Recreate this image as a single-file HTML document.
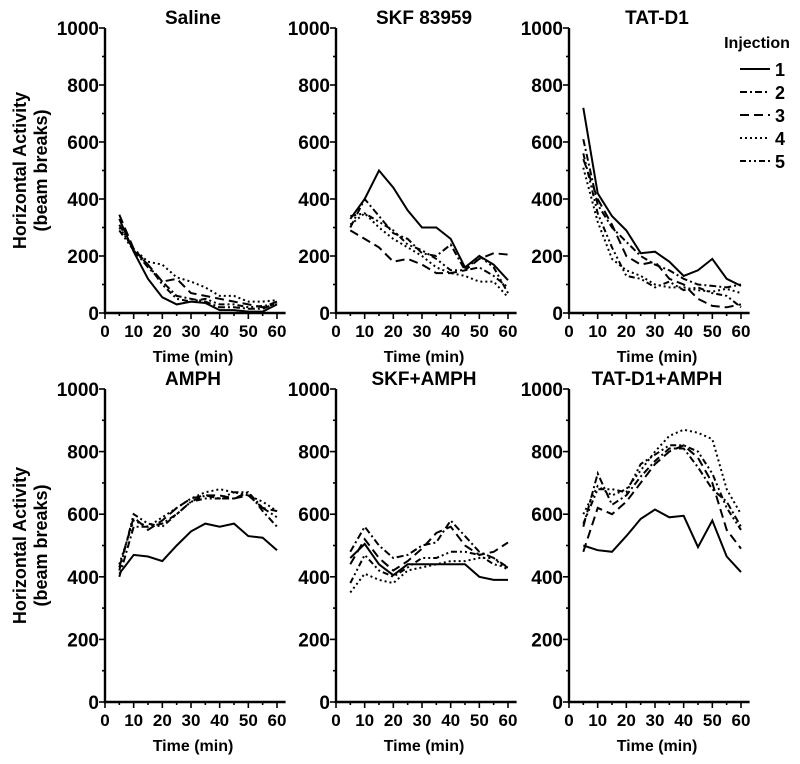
<!DOCTYPE html>
<html><head><meta charset="utf-8"><style>
body{margin:0;background:#fff}
svg{display:block}
text{font-family:"Liberation Sans",Arial,sans-serif;font-weight:bold;fill:#000}
</style></head><body>
<svg id="chart" width="800" height="764" viewBox="0 0 800 764" xmlns="http://www.w3.org/2000/svg"></svg>
<script>
const times=[5,10,15,20,25,30,35,40,45,50,55,60];
const yTicks=[0,200,400,600,800,1000];
const xTicks=[0,10,20,30,40,50,60];
const seriesNames=["1","2","3","4","5"];
const panelTitles=["Saline","SKF 83959","TAT-D1","AMPH","SKF+AMPH","TAT-D1+AMPH"];
const saline=[[330,215,120,55,30,40,35,10,10,5,5,30],[310,220,160,110,60,50,40,20,20,15,15,35],[345,225,170,110,120,70,60,50,40,30,20,40],[300,225,180,170,125,110,90,60,60,40,40,45],[290,220,170,100,50,40,50,30,30,20,25,30]];
const skf=[[330,400,500,440,360,300,300,260,160,200,170,115],[300,400,340,280,260,210,200,240,150,160,130,90],[290,260,230,180,190,170,140,140,150,190,210,205],[310,350,300,260,230,200,160,140,130,110,110,55],[340,350,320,290,240,220,190,150,150,200,160,70]];
const tat=[[720,420,340,290,210,215,180,130,150,190,120,95],[610,380,300,250,200,170,150,120,100,95,90,100],[540,400,310,200,170,180,120,100,50,25,20,30],[510,320,190,150,130,100,90,90,80,75,85,70],[560,350,230,130,120,90,110,80,90,70,60,20]];
const amph=[[410,470,465,450,500,545,570,560,570,530,525,485],[400,560,560,570,600,640,660,650,650,670,610,560],[430,590,550,580,620,650,660,660,650,660,620,610],[440,580,560,590,620,650,670,680,670,660,640,610],[420,600,570,560,600,640,650,650,670,670,620,590]];
const skfAmph=[[460,505,440,405,440,440,440,440,440,400,390,390],[480,560,500,460,470,500,510,580,530,480,460,430],[440,520,460,420,450,490,540,560,500,470,480,510],[350,410,390,380,420,430,440,450,450,460,460,420],[380,470,420,400,430,460,460,480,480,470,440,430]];
const tatAmph=[[500,485,480,530,585,615,590,595,495,580,465,415],[560,730,630,660,720,770,810,810,750,680,640,560],[480,620,600,640,700,760,800,820,780,700,550,490],[600,690,660,680,740,800,850,870,860,840,680,600],[570,680,680,670,760,790,820,820,800,730,620,550]];
const panelData=[saline,skf,tat,amph,skfAmph,tatAmph];
const dashes=["none","7,3,2,3","9,5","2,3","6,3,2,3,2,3"];

const NS="http://www.w3.org/2000/svg";
const svg=document.getElementById('chart');
function mk(tag,attrs,parent){const e=document.createElementNS(NS,tag);for(const k in attrs)e.setAttribute(k,attrs[k]);(parent||svg).appendChild(e);return e;}
const colX=[105,336,569];
const rowY=[[28,313],[389,702]];
const xw=172;
panelData.forEach((data,pi)=>{
  const c=pi%3,r=Math.floor(pi/3);
  const x0=colX[c],yTop=rowY[r][0],yBot=rowY[r][1];
  const sx=v=>x0+v/60*xw;
  const sy=v=>yBot-(v/1000)*(yBot-yTop);
  const g=mk('g',{});
  
  
  const t=mk('text',{x:x0+88,y:yTop-4,'text-anchor':'middle','font-size':19},g);t.textContent=panelTitles[pi];
  
  const ax=mk('path',{d:`M${x0},${yTop} V${yBot} H${sx(63)}`,stroke:'#000','stroke-width':2.4,fill:'none'},g);
  
  for(let v=0;v<=1000;v+=100){mk('line',{x1:x0-(v%200?3:6),x2:x0,y1:sy(v),y2:sy(v),stroke:'#000','stroke-width':1.6},g);}
  yTicks.forEach(v=>{const tt=mk('text',{x:x0-6,y:sy(v)+7,'text-anchor':'end','font-size':19},g);tt.textContent=v;
    });
  for(let v=0;v<=60;v+=5){mk('line',{x1:sx(v),x2:sx(v),y1:yBot,y2:yBot+(v%10?3:6),stroke:'#000','stroke-width':1.6},g);}
  xTicks.forEach(v=>{const tt=mk('text',{x:sx(v),y:yBot+24,'text-anchor':'middle','font-size':17},g);tt.textContent=v;
    });
  const xt=mk('text',{x:x0+88,y:yBot+49,'text-anchor':'middle','font-size':16},g);xt.textContent='Time (min)';
  
  data.forEach((s,si)=>{
    const d=s.map((v,i)=>(i?'L':'M')+sx(times[i]).toFixed(1)+','+sy(v).toFixed(1)).join(' ');
    const p=mk('path',{d:d,stroke:'#000','stroke-width':2,fill:'none','stroke-dasharray':dashes[si]},g);
    
    
  });
  if(c===0){
    const yt=mk('text',{transform:`translate(26,${(yTop+yBot)/2}) rotate(-90)`,'text-anchor':'middle','font-size':18},g);
    
    const a=mk('tspan',{x:0,dy:0},yt);a.textContent='Horizontal Activity';
    const b=mk('tspan',{x:0,dy:21},yt);b.textContent='(beam breaks)';
  }
});
const lg=mk('g',{});


const lt=mk('text',{x:757,y:48,'text-anchor':'middle','font-size':16},lg);lt.textContent='Injection';
seriesNames.forEach((n,i)=>{
  const y=69+i*23;
  const ln=mk('line',{x1:740,x2:770,y1:y,y2:y,stroke:'#000','stroke-width':2,'stroke-dasharray':dashes[i]},lg);
  
  
  const tx=mk('text',{x:775,y:y+7,'font-size':18},lg);tx.textContent=n;
  
  
});
</script>
</body></html>
